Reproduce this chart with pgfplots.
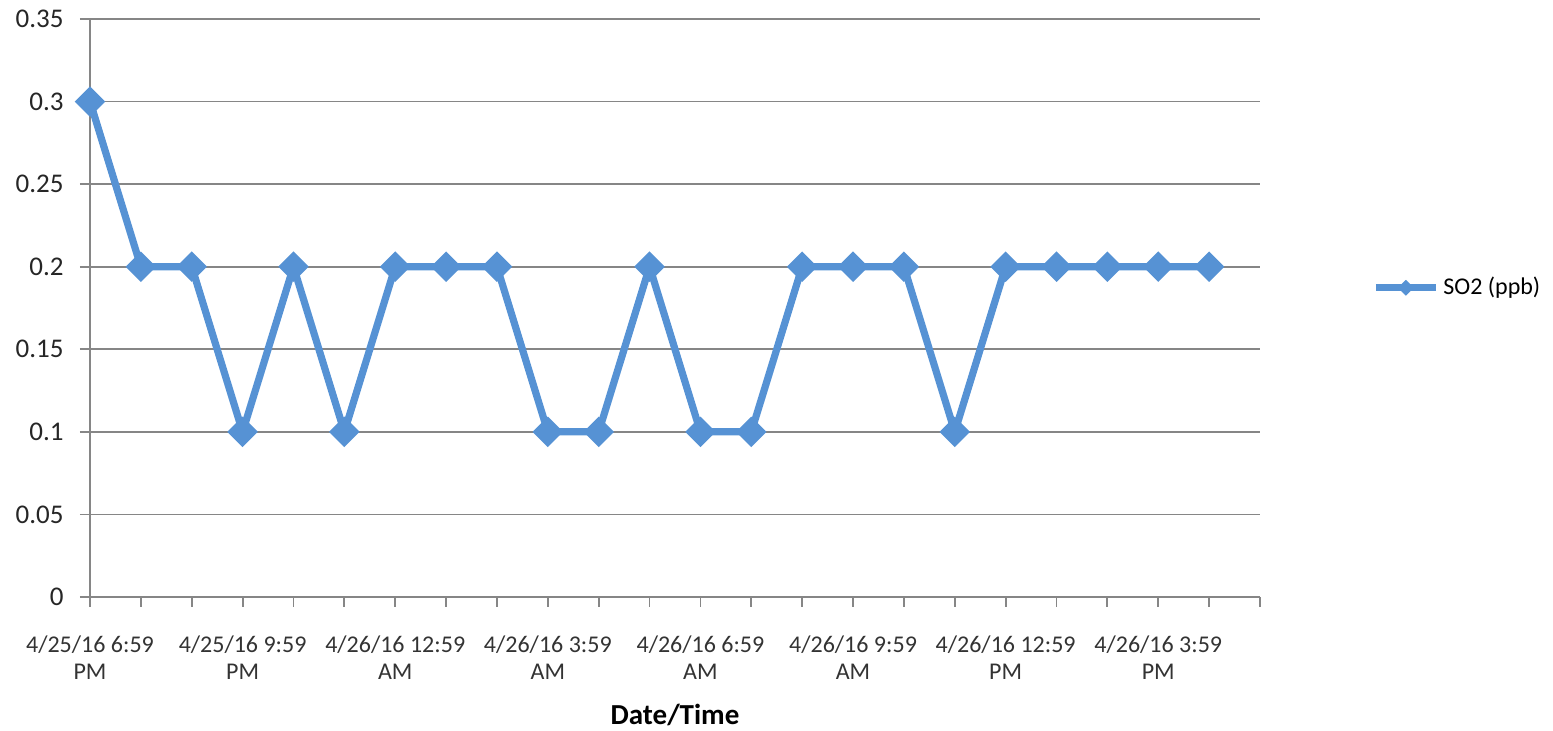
\documentclass[border=0pt]{standalone}
\usepackage{fontspec}
\setmainfont{Carlito}
\usepackage{pgfplots}
\pgfplotsset{compat=1.18}

\definecolor{soblue}{RGB}{86,146,212}
\definecolor{axgray}{RGB}{134,134,134}

\pgfplotstableread{
x y
0 0.3
1 0.2
2 0.2
3 0.1
4 0.2
5 0.1
6 0.2
7 0.2
8 0.2
9 0.1
10 0.1
11 0.2
12 0.1
13 0.1
14 0.2
15 0.2
16 0.2
17 0.1
18 0.2
19 0.2
20 0.2
21 0.2
22 0.2
}\sotwo

\begin{document}
\begin{tikzpicture}
\fontsize{12}{13.5}\selectfont
\begin{axis}[
    scale only axis,
    width=585pt, height=289pt,
    xmin=0, xmax=23,
    ymin=0, ymax=0.35,
    axis lines*=left,
    axis line style={axgray, line width=0.9pt},
    ytick={0,0.05,...,0.35},
    ymajorgrids,
    grid style={axgray, line width=0.9pt},
    xtick={0,3,...,21},
    minor xtick={0,...,23},
    xticklabels={{4/25/16 6:59\\PM},{4/25/16 9:59\\PM},{4/26/16 12:59\\AM},{4/26/16 3:59\\AM},
                 {4/26/16 6:59\\AM},{4/26/16 9:59\\AM},{4/26/16 12:59\\PM},{4/26/16 3:59\\PM}},
    tick align=outside,
    major tick length=5pt,
    minor tick length=5pt,
    tick style={axgray, line width=0.9pt},
    xticklabel style={align=center, font=\fontsize{12}{13.5}\selectfont, text=black!80, yshift=-10pt},
    yticklabel style={font=\fontsize{13.5}{15}\selectfont, text=black!85, xshift=-4pt},
    /pgf/number format/assume math mode=true,
    yticklabel={\pgfmathprintnumber[fixed,precision=2]{\tick}},
    xlabel={\textbf{Date/Time}},
    xlabel style={font=\fontsize{14.5}{16}\selectfont, yshift=-4.5pt},
    legend style={at={(rel axis cs:1,0.535)}, anchor=west, xshift=56pt, draw=none, fill=none,
                  font=\fontsize{12}{14}\selectfont, inner sep=0pt},
    legend cell align=left,
    legend image code/.code={
        \draw[soblue, line width=3.5pt] (0pt,0pt) -- (30pt,0pt);
        \fill[soblue, rotate around={45:(15pt,0pt)}] (14pt,-1pt) rectangle (16pt,1pt);
    },
]
\addplot[soblue, line width=3.6pt, mark=square*, mark size=3.6pt,
         mark options={rotate=45, solid}] table[x=x, y=y] {\sotwo};
\addlegendentry{SO2 (ppb)}
\end{axis}
\pgfresetboundingbox
\path[use as bounding box] ([shift={(-45pt,-67pt)}]current axis.south west)
    rectangle ([shift={(146.5pt,9.5pt)}]current axis.north east);
\end{tikzpicture}
\end{document}
